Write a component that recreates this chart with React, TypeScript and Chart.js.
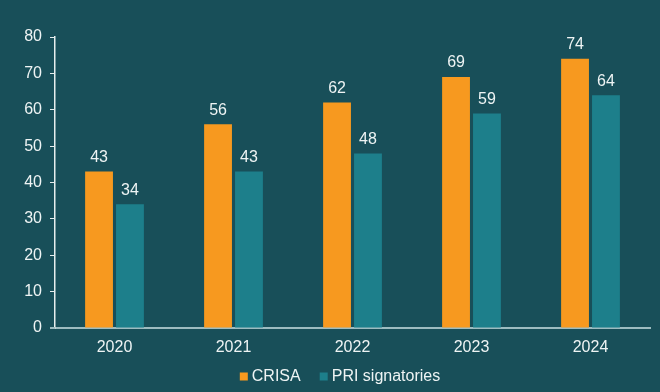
import React, { useEffect, useRef } from "react";
import { Chart, registerables } from "chart.js";

Chart.register(...registerables);

const categories = ["2020", "2021", "2022", "2023", "2024"];
const crisaValues = [43, 56, 62, 69, 74];
const priValues = [34, 43, 48, 59, 64];
const yTicks = [0, 10, 20, 30, 40, 50, 60, 70, 80];

const BG = "#184f59";
const TEXT = "#eef4f4";
const AXIS_X = "#9dbcc0";
const FONT = "'Liberation Sans', Arial, sans-serif";

const valueLabels = {
  id: "valueLabels",
  afterDatasetsDraw(chart: any) {
    const ctx = chart.ctx;
    ctx.save();
    ctx.fillStyle = TEXT;
    ctx.font = `16px ${FONT}`;
    ctx.textAlign = "center";
    ctx.textBaseline = "bottom";
    chart.data.datasets.forEach((ds: any, i: number) => {
      const meta = chart.getDatasetMeta(i);
      meta.data.forEach((bar: any, j: number) => {
        ctx.fillText(String(ds.data[j]), bar.x, bar.y - 6);
      });
    });
    ctx.restore();
  },
};

const bgPlugin = {
  id: "bgFill",
  beforeDraw(chart: any) {
    const ctx = chart.ctx;
    ctx.save();
    ctx.fillStyle = BG;
    ctx.fillRect(0, 0, chart.width, chart.height);
    ctx.restore();
  },
};

const bottomLegend = {
  id: "bottomLegend",
  afterDraw(chart: any) {
    const ctx = chart.ctx;
    ctx.save();
    // x-axis extension to the left of the y axis
    const area = chart.chartArea;
    ctx.strokeStyle = AXIS_X;
    ctx.lineWidth = 2;
    ctx.beginPath();
    ctx.moveTo(area.left - 5, area.bottom);
    ctx.lineTo(area.left, area.bottom);
    ctx.stroke();

    ctx.font = `16px ${FONT}`;
    ctx.textBaseline = "middle";
    ctx.textAlign = "left";
    const box = 8;
    const gapText = 4;
    const gapItem = 19;
    const items = chart.data.datasets.map((ds: any) => ({
      label: ds.label,
      color: ds.backgroundColor,
      w: box + gapText + ctx.measureText(ds.label).width,
    }));
    const total =
      items.reduce((s: number, it: any) => s + it.w, 0) + gapItem * (items.length - 1);
    let x = 340 - total / 2;
    const y = 376.5;
    items.forEach((it: any) => {
      ctx.fillStyle = it.color;
      ctx.fillRect(x, y - box / 2, box, box);
      ctx.fillStyle = TEXT;
      ctx.fillText(it.label, x + box + gapText, y + 0.5);
      x += it.w + gapItem;
    });
    ctx.restore();
  },
};

export default function App() {
  const ref = useRef<HTMLCanvasElement>(null);
  useEffect(() => {
    document.body.style.margin = "0";
    document.body.style.background = BG;
    const chart = new Chart(ref.current!, {
      type: "bar",
      data: {
        labels: categories,
        datasets: [
          {
            label: "CRISA",
            data: crisaValues,
            backgroundColor: "#f7991f",
            categoryPercentage: 0.52,
            barPercentage: 0.9,
          },
          {
            label: "PRI signatories",
            data: priValues,
            backgroundColor: "#1d7f8b",
            categoryPercentage: 0.52,
            barPercentage: 0.9,
          },
        ],
      },
      options: {
        animation: false,
        responsive: false,
        layout: { padding: { left: 8, right: 10, top: 37, bottom: 31 } },
        plugins: {
          legend: { display: false },
          tooltip: { enabled: false },
        },
        scales: {
          x: {
            afterFit(scale: any) {
              scale.height = 33;
            },
            grid: { display: false, drawTicks: false },
            border: { color: AXIS_X, width: 2 },
            ticks: {
              color: TEXT,
              font: { family: FONT, size: 16 },
              padding: 10,
            },
          },
          y: {
            min: 0,
            max: 80,
            afterBuildTicks(scale: any) {
              scale.ticks = yTicks.map((v) => ({ value: v }));
            },
            afterFit(scale: any) {
              scale.width = 47;
            },
            grid: {
              drawOnChartArea: false,
              drawTicks: true,
              tickLength: 5,
              color: "#e6eeee",
            },
            border: { color: "#e6eeee", width: 1.5 },
            ticks: {
              color: TEXT,
              font: { family: FONT, size: 16 },
              padding: 8,
            },
          },
        },
      },
      plugins: [bgPlugin, valueLabels, bottomLegend],
    });
    return () => chart.destroy();
  }, []);
  return <canvas ref={ref} width={660} height={392} style={{ display: "block" }} />;
}
